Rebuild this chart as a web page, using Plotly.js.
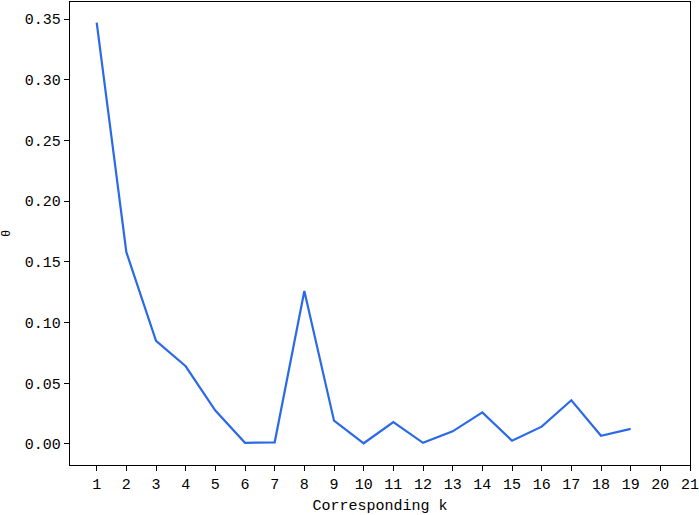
<!DOCTYPE html>
<html>
<head>
<meta charset="utf-8">
<script src="https://cdn.plot.ly/plotly-3.0.1.min.js"></script>
<style>html,body{margin:0;padding:0;background:#fff;}#chart{width:699px;height:515px;}</style>
</head>
<body>
<div id="chart"></div>
<script>
const kValues = [1,2,3,4,5,6,7,8,9,10,11,12,13,14,15,16,17,18,19];
const thetaValues = [0.347,0.158,0.085,0.064,0.0275,0.001,0.0014,0.126,0.0192,0.0006,0.018,0.001,0.0104,0.026,0.0027,0.0143,0.036,0.0068,0.0124];
const xTickVals = [1,2,3,4,5,6,7,8,9,10,11,12,13,14,15,16,17,18,19,20,21];
const yTickVals = [0,0.05,0.10,0.15,0.20,0.25,0.30,0.35];

const font = {family: '"Liberation Mono", "DejaVu Sans Mono", monospace', size: 15, color: '#000'};

Plotly.newPlot('chart', [{
  x: kValues, y: thetaValues, type: 'scatter', mode: 'lines',
  line: {color: '#2a6ae8', width: 2.2}
}], {
  width: 699, height: 515,
  margin: {l: 70, r: 9, t: 2, b: 50},
  paper_bgcolor: '#fff', plot_bgcolor: '#fff',
  showlegend: false,
  font: font,
  xaxis: {
    range: [0.1, 21], tickvals: xTickVals, ticks: 'outside', ticklen: 5, tickcolor: '#000',
    showgrid: false, zeroline: false, showline: true, linecolor: '#000', linewidth: 1.2, mirror: true,
    tickfont: font, ticklabeloverflow: 'allow',
    title: {text: 'Corresponding k', font: font, standoff: 6}
  },
  yaxis: {
    range: [-0.0173, 0.364], tickvals: yTickVals, tickformat: '.2f', ticks: 'outside', ticklen: 5, tickcolor: '#000',
    showgrid: false, zeroline: false, showline: true, linecolor: '#000', linewidth: 1.2, mirror: true,
    tickfont: font, ticklabeloverflow: 'allow',
    title: {text: 'θ', font: {family: font.family, size: 12, color: '#000'}, standoff: 12}
  }
}, {staticPlot: true});
</script>
</body>
</html>
